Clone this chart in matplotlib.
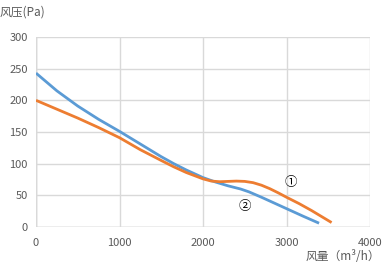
import matplotlib
matplotlib.use("Agg")
import matplotlib.pyplot as plt

plt.rcParams['font.family'] = ['Noto Sans CJK SC', 'DejaVu Sans']

blue_x = [0, 250, 500, 750, 1000, 1250, 1500, 1650, 1800, 2000, 2150, 2300, 2450, 2550, 2700, 2850, 3000, 3200, 3390]
blue_y = [243, 215, 191, 170, 151, 131, 111, 100, 90, 78, 71, 65, 60, 55.5, 47, 38, 29, 17, 6]
orange_x = [0, 250, 500, 750, 1000, 1250, 1500, 1650, 1800, 2000, 2100, 2200, 2300, 2400, 2500, 2600, 2700, 2800, 2900, 3000, 3150, 3300, 3540]
orange_y = [200, 186, 172, 157, 141, 122, 105, 95, 86, 76, 72.5, 71.5, 72, 72.5, 72, 70, 66, 60.5, 54, 47, 37, 26, 7]
x_ticks = [0, 1000, 2000, 3000, 4000]
y_ticks = [0, 50, 100, 150, 200, 250, 300]

fig = plt.figure(figsize=(3.84, 2.64), dpi=100)
ax = fig.add_axes([36/384, 1-227/264, (370-36)/384, (227-37)/264])
ax.plot(blue_x, blue_y, color='#5B9BD5', lw=2.0, solid_capstyle='butt', solid_joinstyle='round')
ax.plot(orange_x, orange_y, color='#ED7D31', lw=2.0, solid_capstyle='butt', solid_joinstyle='round')
ax.set_xlim(0, 4000)
ax.set_ylim(0, 300)
ax.set_xticks(x_ticks)
ax.set_yticks(y_ticks)
ax.grid(True, color='#D9D9D9', lw=1.0)
ax.set_axisbelow(True)
for s in ax.spines.values():
    s.set_visible(False)
ax.axvline(0, color='#BFBFBF', lw=1.0, zorder=0.5)
ax.axhline(0, color='#BFBFBF', lw=1.0, zorder=0.5)
ax.tick_params(axis='y', length=0, labelsize=8, labelcolor='#595959', pad=6)
ax.tick_params(axis='x', length=0, labelsize=8, labelcolor='#595959', pad=8)
ax.text(3050, 70, '①', fontsize=9, ha='center', va='center', color='black')
ax.text(2500, 33, '②', fontsize=9, ha='center', va='center', color='black')
fig.text(0, 252/264, '风压(Pa)', fontsize=8.5, color='#595959', ha='left', va='center')
fig.text(380/384, 8/264, '风量（m³/h）', fontsize=8.5, color='#595959', ha='right', va='center')
fig.savefig('out.png', dpi=100)
